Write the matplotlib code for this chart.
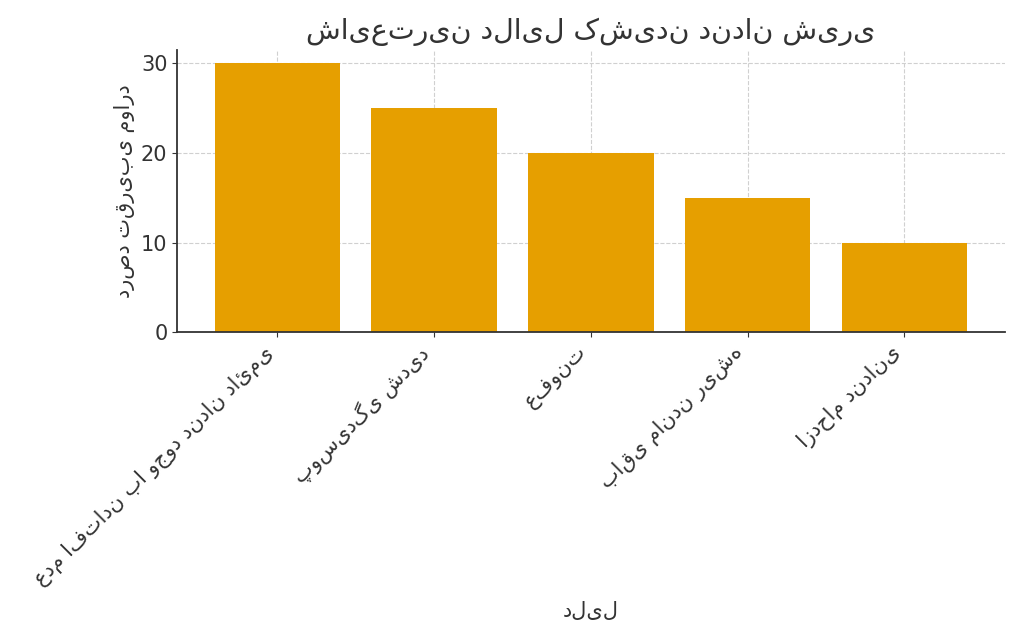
import matplotlib.pyplot as plt
from matplotlib.ticker import MultipleLocator

reasons = ["عدم افتادن با وجود دندان دائمی", "پوسیدگی شدید", "عفونت", "باقی ماندن ریشه", "ازدحام دندانی"]
percent = [30, 25, 20, 15, 10]

title = "شایعترین دلایل کشیدن دندان شیری"
xlabel = "دلیل"
ylabel = "درصد تقریبی موارد"

dark = "#333333"
plt.rcParams["text.color"] = dark
plt.rcParams["axes.labelcolor"] = dark
plt.rcParams["xtick.color"] = dark
plt.rcParams["ytick.color"] = dark

fig, ax = plt.subplots(figsize=(10.24, 6.4), dpi=100)
ax.bar(reasons, percent, color="#E69F00", width=0.8, zorder=2)
ax.set_title(title, fontsize=20.5, pad=8)
ax.set_xlabel(xlabel, fontsize=15, labelpad=8)
ax.set_ylabel(ylabel, fontsize=15)
ax.tick_params(labelsize=15)
ax.yaxis.set_major_locator(MultipleLocator(10))
plt.xticks(rotation=45, ha="right")
ax.grid(True, linestyle="--", color="#d0d0d0", linewidth=0.8, zorder=0)
ax.spines["top"].set_visible(False)
ax.spines["right"].set_visible(False)
ax.spines["left"].set_color(dark)
ax.spines["bottom"].set_color(dark)
ax.spines["left"].set_linewidth(1.3)
ax.spines["bottom"].set_linewidth(1.3)
fig.subplots_adjust(left=0.173, right=0.981, top=0.922, bottom=0.481)
plt.savefig("out.png")
